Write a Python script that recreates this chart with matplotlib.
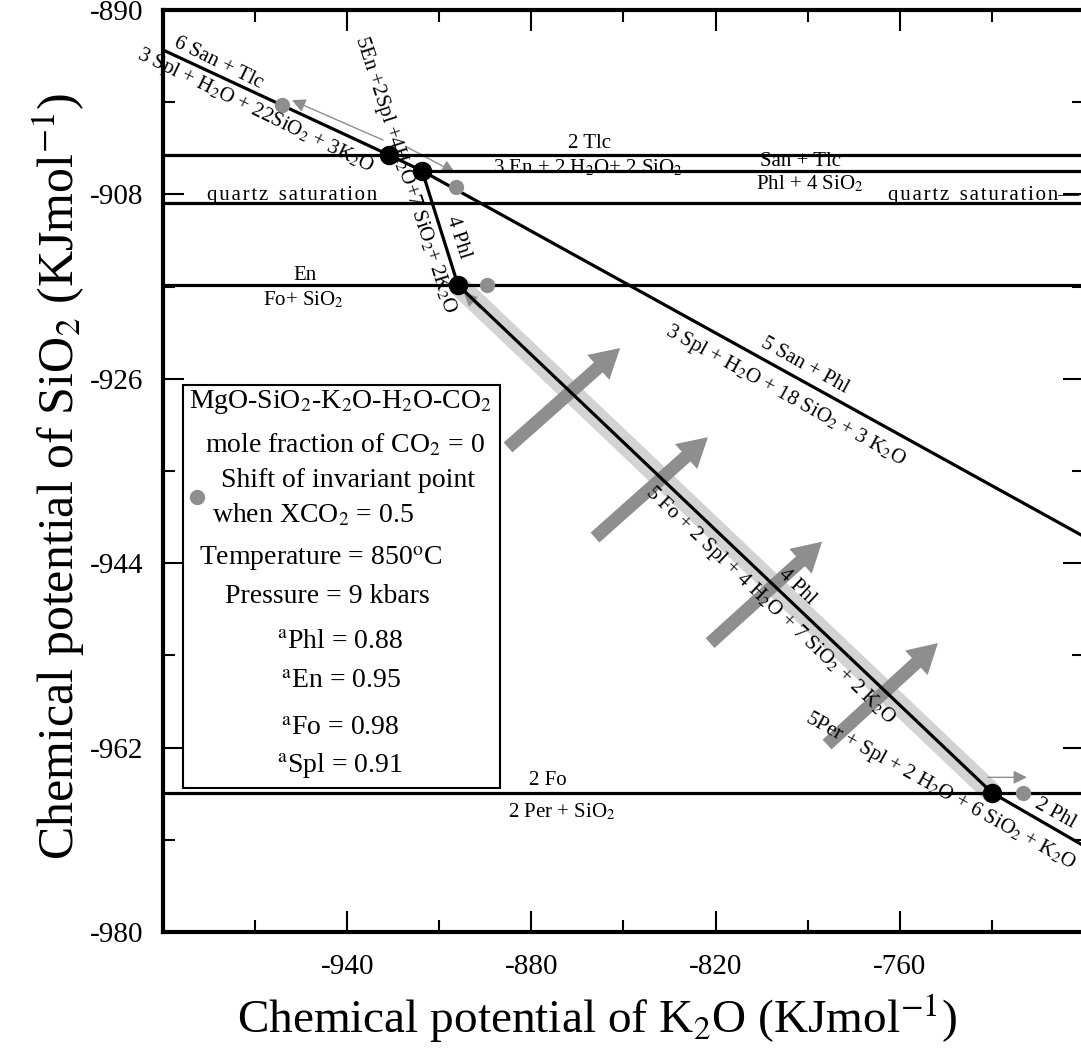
import matplotlib.pyplot as plt
from matplotlib.patches import Rectangle

plt.rcParams['font.family'] = ['Liberation Serif', 'DejaVu Serif']
plt.rcParams['mathtext.fontset'] = 'stix'
plt.rcParams['axes.unicode_minus'] = False

# invariant points at XCO2 = 0 (mu K2O, mu SiO2)
inv_k2o = [-926.4, -915.6, -903.9, -730.0]
inv_sio2 = [-904.15, -905.7, -916.85, -966.4]

# the same points at XCO2 = 0.5
shift_k2o = [-961.2, -904.6, -894.5, -719.9]
shift_sio2 = [-899.3, -907.3, -916.85, -966.4]

# SiO2-buffered reactions (horizontal)
tlc_en = -904.15
san_tlc_phl = -905.7
qtz_sat = -908.8
en_fo = -916.85
fo_per = -966.4

# sloped reactions where they meet the frame
san_tlc_edge = (-1000.0, -893.9)
san_phl_edge = (-700.0, -941.4)
phl_per_edge = (-700.0, -971.6)

# direction of field shift with rising XCO2 (tail -> head)
shift_tail_k2o = [-887.6, -859.3, -821.8, -783.7]
shift_tail_sio2 = [-932.7, -941.5, -951.8, -961.7]
shift_head_k2o = [-851.1, -822.5, -785.3, -747.6]
shift_head_sio2 = [-923.0, -931.7, -941.9, -951.8]

# thin arrows: invariant point -> shifted point
move_tail_k2o = [-928.3, -921.0, -896.7, -731.3]
move_tail_sio2 = [-902.7, -903.3, -919.1, -964.9]
move_head_k2o = [-958.0, -904.8, -902.0, -718.6]
move_head_sio2 = [-898.8, -905.9, -917.6, -964.9]

xmajor = [-940, -880, -820, -760]
xminor = [-970, -910, -850, -790, -730]
ymajor = [-890, -908, -926, -944, -962, -980]
yminor = [-899, -917, -935, -953, -971]

legend_lines = [
    r'MgO-SiO$_2$-K$_2$O-H$_2$O-CO$_2$',
    r'mole fraction of CO$_2$ = 0',
    'Shift of invariant point',
    r'when XCO$_2$ = 0.5',
    r'Temperature = 850$^{\rm o}$C',
    'Pressure = 9 kbars',
    r'$^{\rm a}$Phl = 0.88',
    r'$^{\rm a}$En = 0.95',
    r'$^{\rm a}$Fo = 0.98',
    r'$^{\rm a}$Spl = 0.91',
]


def spaced(s):
    # loose letter spacing for the quartz saturation labels
    return '\u2002'.join('\u200a'.join(w) for w in s.split(' '))


W, H = 1081, 1059
fig = plt.figure(figsize=(W / 100, H / 100), dpi=100)
ax = fig.add_axes([163 / W, 1 - 932 / H, 921 / W, 922 / H])
ax.set_xlim(-1000, -700)
ax.set_ylim(-980, -890)

line_kw = dict(color='black', lw=2.3, zorder=4)

# horizontal reactions
for y in [tlc_en, qtz_sat, en_fo, fo_per]:
    ax.axhline(y, **line_kw)
ax.plot([inv_k2o[1], -700], [san_tlc_phl, san_tlc_phl], **line_kw)

# sloped reactions
ax.plot([san_tlc_edge[0], inv_k2o[0], inv_k2o[1], san_phl_edge[0]],
        [san_tlc_edge[1], inv_sio2[0], inv_sio2[1], san_phl_edge[1]], **line_kw)
ax.plot(inv_k2o[1:3], inv_sio2[1:3], **line_kw)
ax.plot(inv_k2o[2:4], inv_sio2[2:4], **line_kw)
ax.plot([inv_k2o[3], phl_per_edge[0]], [inv_sio2[3], phl_per_edge[1]], **line_kw)

# shaded band along the phlogopite breakdown line
ax.plot(inv_k2o[2:4], inv_sio2[2:4], color='#d3d3d3', lw=15,
        solid_capstyle='butt', zorder=1)

# thick shift arrows
for tx, ty, hx, hy in zip(shift_tail_k2o, shift_tail_sio2, shift_head_k2o, shift_head_sio2):
    ax.annotate('', xy=(hx, hy), xytext=(tx, ty),
                arrowprops=dict(arrowstyle='simple,head_width=2.4,head_length=2.1,tail_width=0.95',
                                color='#8e8e8e', lw=0, mutation_scale=10,
                                shrinkA=0, shrinkB=0), zorder=2)

# thin arrows to the shifted invariant points
for tx, ty, hx, hy in zip(move_tail_k2o, move_tail_sio2, move_head_k2o, move_head_sio2):
    ax.annotate('', xy=(hx, hy), xytext=(tx, ty),
                arrowprops=dict(arrowstyle='-|>', color='#8e8e8e', lw=1.0,
                                mutation_scale=20, shrinkA=0, shrinkB=0), zorder=3)

ax.plot(shift_k2o, shift_sio2, 'o', color='#8e8e8e', ms=11, mec='none', zorder=5)
ax.plot(inv_k2o, inv_sio2, 'o', color='black', ms=13, zorder=6)

# reaction labels
fs = 15
def lab(x, y, s, rot=0, **kw):
    ax.text(x, y, s, fontsize=fs, rotation=rot, ha='center', va='center',
            rotation_mode='anchor', clip_on=False, zorder=7, **kw)

lab(-982.1, -895.2, '6 San + Tlc', -26)
lab(-970.0, -899.8, r'3 Spl + H$_2$O + 22SiO$_2$ + 3K$_2$O', -26)
lab(-921.2, -906.1, r'5En +2Spl +4H$_2$O+7 SiO$_2$+ 2K$_2$O', -72)
lab(-903.9, -912.2, '4 Phl', -72)
lab(-861.1, -903.0, '2 Tlc')
lab(-861.6, -905.4, r'3 En + 2 H$_2$O+ 2 SiO$_2$')
lab(-792.5, -904.8, 'San + Tlc')
lab(-789.3, -907.0, r'Phl + 4 SiO$_2$')
lab(-958.0, -908.1, spaced('quartz saturation'))
ax.text(-701.5, -908.1, spaced('quartz saturation') + '\u2014', fontsize=fs,
        ha='right', va='center', zorder=7)
lab(-953.7, -915.9, 'En')
lab(-954.4, -918.3, r'Fo+ SiO$_2$')
lab(-790.9, -924.7, '5 San + Phl', -29)
lab(-797.4, -927.7, r'3 Spl + H$_2$O + 18 SiO$_2$ + 3 K$_2$O', -29)
lab(-802.3, -948.1, r'5 Fo + 2 Spl + 4 H$_2$O + 7 SiO$_2$ + 2 K$_2$O', -43.5)
lab(-793.5, -946.3, '4 Phl', -43.5)
lab(-874.6, -965.2, '2 Fo')
lab(-870.0, -968.3, r'2 Per + SiO$_2$')
lab(-746.8, -966.2, r'5Per + Spl + 2 H$_2$O + 6 SiO$_2$ + K$_2$O', -29)
lab(-709.4, -968.4, '2 Phl', -29)

# frame and ticks
for sp in ax.spines.values():
    sp.set_linewidth(3)
ax.set_xticks(xmajor)
ax.set_xticks(xminor, minor=True)
ax.set_yticks(ymajor)
ax.set_yticks(yminor, minor=True)
ax.set_xticklabels([str(v) for v in xmajor])
ax.set_yticklabels([str(v) for v in ymajor])
ax.tick_params(which='both', direction='in', top=True, right=True, width=1.5, labelsize=21)
ax.tick_params(which='major', length=15)
ax.tick_params(which='minor', length=8.5)
ax.tick_params(axis='x', pad=16)
ax.tick_params(axis='y', pad=14)

fig.text(597 / W, 1 - 1033 / H, r'Chemical potential of K$_2$O (KJmol$^{-1}$)',
         fontsize=34, ha='center', va='baseline')
fig.text(74 / W, 1 - 476 / H, r'Chemical potential of SiO$_2$ (KJmol$^{-1}$)',
         fontsize=36, ha='center', va='baseline', rotation=90, rotation_mode='anchor')

# legend box
fig.patches.append(Rectangle((183 / W, 1 - 788 / H), 317 / W, 403 / H, fill=False,
                             lw=1.5, ec='black', transform=fig.transFigure, zorder=8))
fig.patches.append(Rectangle((183 / W, 1 - 788 / H), 317 / W, 403 / H, fill=True,
                             lw=0, fc='white', transform=fig.transFigure, zorder=7))
legend_x = [341, 345, 348, 313, 321, 327, 340, 341, 340, 340]
legend_base = [408, 452, 487, 522, 565, 603, 648, 688, 735, 772]
for s, x, y in zip(legend_lines, legend_x, legend_base):
    fig.text(x / W, 1 - y / H, s, fontsize=20, ha='center', va='baseline', zorder=9)
fig.lines.append(plt.Line2D([197 / W], [1 - 497 / H], marker='o', ms=11, color='#8e8e8e',
                            mec='none', transform=fig.transFigure, zorder=10))

fig.savefig('out.png', dpi=100)
